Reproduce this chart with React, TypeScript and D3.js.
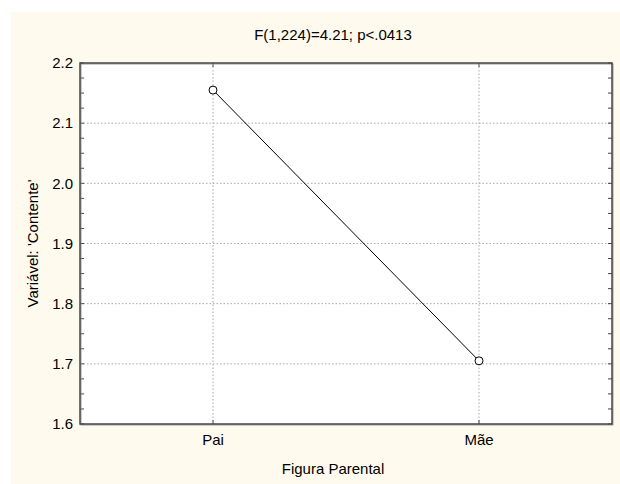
import React from "react";
import * as d3 from "d3";

const categories = ["Pai", "Mãe"];
const values = [2.155, 1.705];
const yTicks = [1.6, 1.7, 1.8, 1.9, 2.0, 2.1, 2.2];
const title = "F(1,224)=4.21; p<.0413";
const xLabel = "Figura Parental";
const yLabel = "Variável: 'Contente'";

export default function App() {
  const W = 620, H = 484;
  const L = 80, R = 612, T = 63, B = 424;
  const x = d3.scalePoint<string>().domain(categories).range([L, R]).padding(0.5);
  const y = d3.scaleLinear().domain([1.6, 2.2]).range([B, T]);
  const minor = d3.range(1.6, 2.2001, 0.025);
  const line = d3.line<number>().x((_, i) => x(categories[i])!).y((d) => y(d));
  const font = "'Liberation Sans', Arial, sans-serif";
  const fs = 15;
  return (
    <svg width={W} height={H} style={{ position: "absolute", left: 0, top: 0 }} fontFamily={font}>
      <rect x={11} y={12} width={W - 11} height={H - 12} fill="#fffaee" />
      <rect x={L} y={T} width={R - L} height={B - T} fill="#fff" />
      {yTicks.slice(1, -1).map((t) => (
        <line key={t} x1={L} x2={R} y1={y(t)} y2={y(t)} stroke="#aaa" strokeDasharray="1.5,2" />
      ))}
      {categories.map((c) => (
        <line key={c} x1={x(c)} x2={x(c)} y1={T} y2={B} stroke="#aaa" strokeDasharray="1.5,2" />
      ))}
      {minor.map((t, i) => (
        <g key={i}>
          <line x1={L} x2={L + 4} y1={y(t)} y2={y(t)} stroke="#444" />
          <line x1={R - 4} x2={R} y1={y(t)} y2={y(t)} stroke="#444" />
        </g>
      ))}
      {categories.map((c) => (
        <g key={c}>
          <line x1={x(c)} x2={x(c)} y1={B - 4} y2={B} stroke="#444" />
          <line x1={x(c)} x2={x(c)} y1={T} y2={T + 4} stroke="#444" />
        </g>
      ))}
      <rect x={L + 1} y={T + 1} width={R - L} height={B - T} fill="none" stroke="#999" strokeWidth={1} />
      <rect x={L} y={T} width={R - L} height={B - T} fill="none" stroke="#444" strokeWidth={1.5} />
      <path d={line(values)!} fill="none" stroke="#000" strokeWidth={1} />
      {values.map((v, i) => (
        <circle key={i} cx={x(categories[i])} cy={y(v)} r={4} fill="#fff" stroke="#000" strokeWidth={1} />
      ))}
      {yTicks.map((t) => (
        <text key={t} x={L - 7} y={y(t)} dy="0.35em" textAnchor="end" fontSize={fs} fill="#000">
          {t.toFixed(1)}
        </text>
      ))}
      {categories.map((c) => (
        <text key={c} x={x(c)} y={445} textAnchor="middle" fontSize={fs} fill="#000">{c}</text>
      ))}
      <text x={333} y={40} textAnchor="middle" fontSize={fs}>{title}</text>
      <text x={333} y={474} textAnchor="middle" fontSize={fs}>{xLabel}</text>
      <text transform={`translate(38,${(T + B) / 2}) rotate(-90)`} textAnchor="middle" fontSize={fs}>{yLabel}</text>
    </svg>
  );
}
